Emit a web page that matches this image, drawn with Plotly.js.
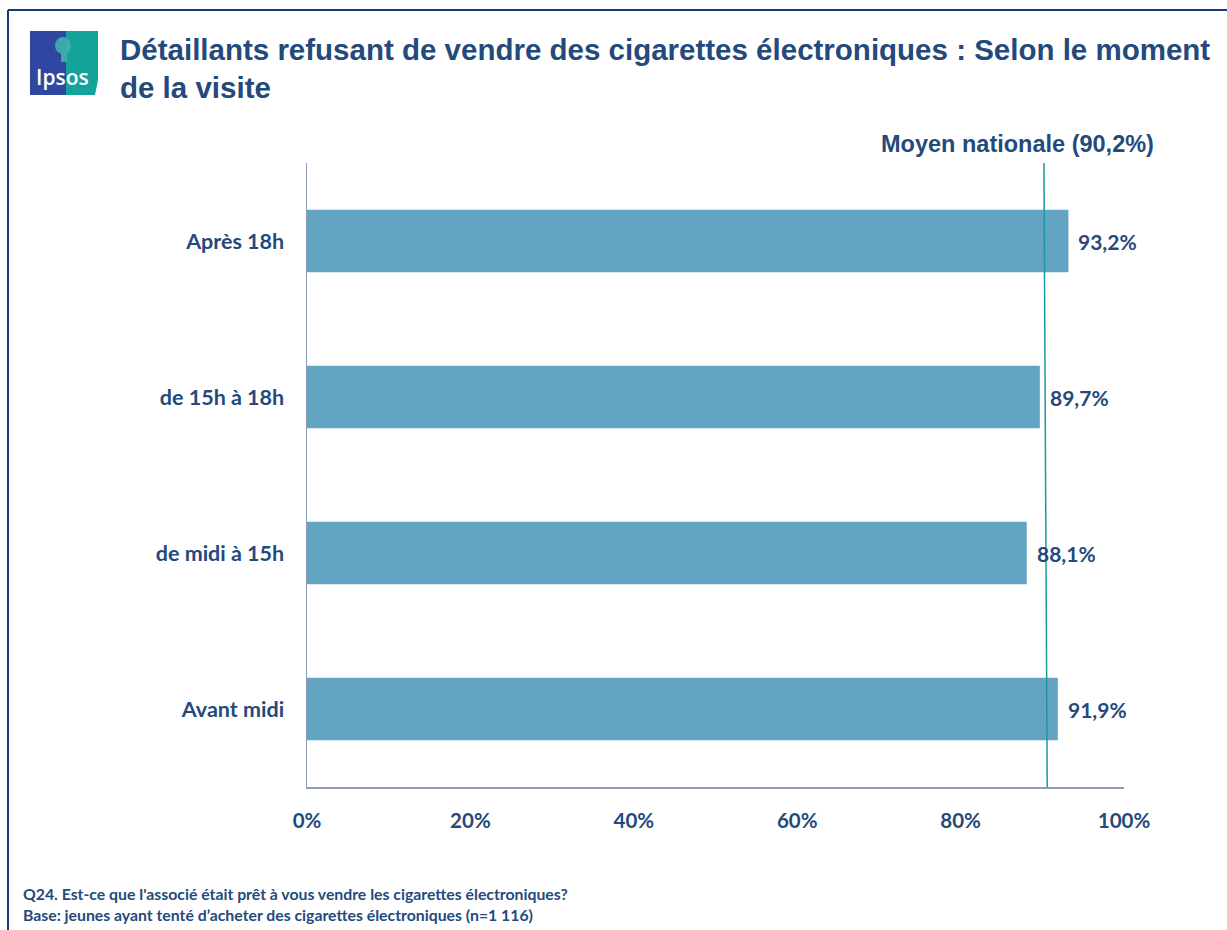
<!DOCTYPE html>
<html>
<head>
<meta charset="utf-8">
<script src="https://cdn.plot.ly/plotly-3.0.1.min.js"></script>
<style>
  html, body { margin: 0; padding: 0; background: #ffffff; }
  #chart { width: 1227px; height: 930px; }
</style>
</head>
<body>
<div id="chart"></div>
<script>
// ---- data ----
const categories = ["Après 18h", "de 15h à 18h", "de midi à 15h", "Avant midi"];
const values = [93.2, 89.7, 88.1, 91.9];
const nationalAverage = 90.2;
const tickValues = [0, 20, 40, 60, 80, 100];
const tickLabels = ["0%", "20%", "40%", "60%", "80%", "100%"];
const titleText = "Détaillants refusant de vendre des cigarettes électroniques : Selon le moment<br>de la visite";
const averageLabel = "Moyen nationale (90,2%)";
const footnote1 = "Q24. Est-ce que l'associé était prêt à vous vendre les cigarettes électroniques?";
const footnote2 = "Base: jeunes ayant tenté d’acheter des cigarettes électroniques (n=1 116)";

// ---- layout helpers (pixel -> paper) ----
const W = 1227, H = 930;
const L = 307, R = 1124, T = 163, B = 787;
const px = x => (x - L) / (R - L);
const py = y => (B - y) / (B - T);

const navy = "#244a7c";
const fmt = v => v.toFixed(1).replace(".", ",") + "%";

const trace = {
  type: "bar",
  orientation: "h",
  x: values,
  y: categories,
  width: 0.4,
  marker: { color: "#63a4c3", line: { width: 0 } },
  hoverinfo: "none"
};

const annotations = values.map((v, i) => ({
  x: v, y: categories[i], xref: "x", yref: "y",
  text: fmt(v), showarrow: false, xanchor: "left", xshift: 8,
  font: { family: "Lato, 'Open Sans', sans-serif", size: 21, color: navy, weight: 700 }
}));

annotations.push({
  x: px(1017), y: py(144), xref: "paper", yref: "paper",
  text: "<b>" + averageLabel + "</b>", showarrow: false, xanchor: "center", yanchor: "middle",
  font: { family: "'Liberation Sans', Arial, sans-serif", size: 23.5, color: navy }
});
annotations.push({
  x: px(118), y: py(68), xref: "paper", yref: "paper",
  text: "<b>" + titleText + "</b>", showarrow: false, xanchor: "left", yanchor: "middle", align: "left",
  font: { family: "'Liberation Sans', Arial, sans-serif", size: 29.5, color: navy }
});
annotations.push({
  x: px(21), y: py(904), xref: "paper", yref: "paper",
  text: "<b>" + footnote1 + "<br>" + footnote2 + "</b>", showarrow: false, xanchor: "left", yanchor: "middle", align: "left",
  font: { family: "Lato, 'Open Sans', sans-serif", size: 15.8, color: navy }
});
annotations.push({
  x: px(63), y: py(77), xref: "paper", yref: "paper",
  text: "Ipsos", showarrow: false, xanchor: "center", yanchor: "middle",
  font: { family: "'Open Sans', Lato, sans-serif", size: 21, color: "#ffffff", weight: 600 }
});

const shapes = [
  // frame
  { type: "line", xref: "paper", yref: "paper", x0: px(8), x1: px(1240), y0: py(10), y1: py(10), line: { color: "#1c3a78", width: 2 } },
  { type: "line", xref: "paper", yref: "paper", x0: px(8), x1: px(8), y0: py(10), y1: py(940), line: { color: "#1c3a78", width: 2 } },
  // logo
  { type: "rect", xref: "paper", yref: "paper", x0: px(30), x1: px(66), y0: py(31), y1: py(95), fillcolor: "#2f47a0", line: { width: 0 }, layer: "below" },
  { type: "path", xref: "paper", yref: "paper",
    path: `M ${px(66)} ${py(31)} L ${px(98)} ${py(31)} L ${px(98)} ${py(80)} L ${px(95)} ${py(95)} L ${px(66)} ${py(95)} Z`,
    fillcolor: "#15a29b", line: { width: 0 }, layer: "below" },
  { type: "circle", xref: "paper", yref: "paper", x0: px(55), x1: px(71), y0: py(37), y1: py(54), fillcolor: "#3fb1ad", line: { width: 0 }, opacity: 0.9 },
  { type: "rect", xref: "paper", yref: "paper", x0: px(61), x1: px(67), y0: py(53), y1: py(62), fillcolor: "#3fb1ad", line: { width: 0 }, opacity: 0.9 },
  // national average line
  { type: "line", xref: "x", yref: "paper", x0: nationalAverage, x1: nationalAverage + 0.4, y0: 1, y1: 0,
    line: { color: "#1a9a9c", width: 1.5 } }
];

const layout = {
  width: W, height: H,
  margin: { l: L, r: W - R, t: T, b: H - B, pad: 0 },
  paper_bgcolor: "#ffffff", plot_bgcolor: "#ffffff",
  showlegend: false,
  xaxis: {
    range: [0, 100], tickvals: tickValues, ticktext: tickLabels,
    showgrid: false, zeroline: false, showline: true, linecolor: "#8e9bb9", linewidth: 1.5,
    ticks: "", ticklabelstandoff: 15,
    tickfont: { family: "Lato, 'Open Sans', sans-serif", size: 20.5, color: navy, weight: 700 },
    fixedrange: true
  },
  yaxis: {
    type: "category", autorange: "reversed",
    showgrid: false, zeroline: false, showline: true, linecolor: "#8e9bb9", linewidth: 1.5,
    ticks: "", ticklabelstandoff: 17,
    tickfont: { family: "Lato, 'Open Sans', sans-serif", size: 21.5, color: navy, weight: 700 },
    fixedrange: true
  },
  annotations: annotations,
  shapes: shapes,
  font: { family: "Lato, sans-serif", color: navy }
};

Plotly.newPlot("chart", [trace], layout, { displayModeBar: false, staticPlot: true });
</script>
</body>
</html>
